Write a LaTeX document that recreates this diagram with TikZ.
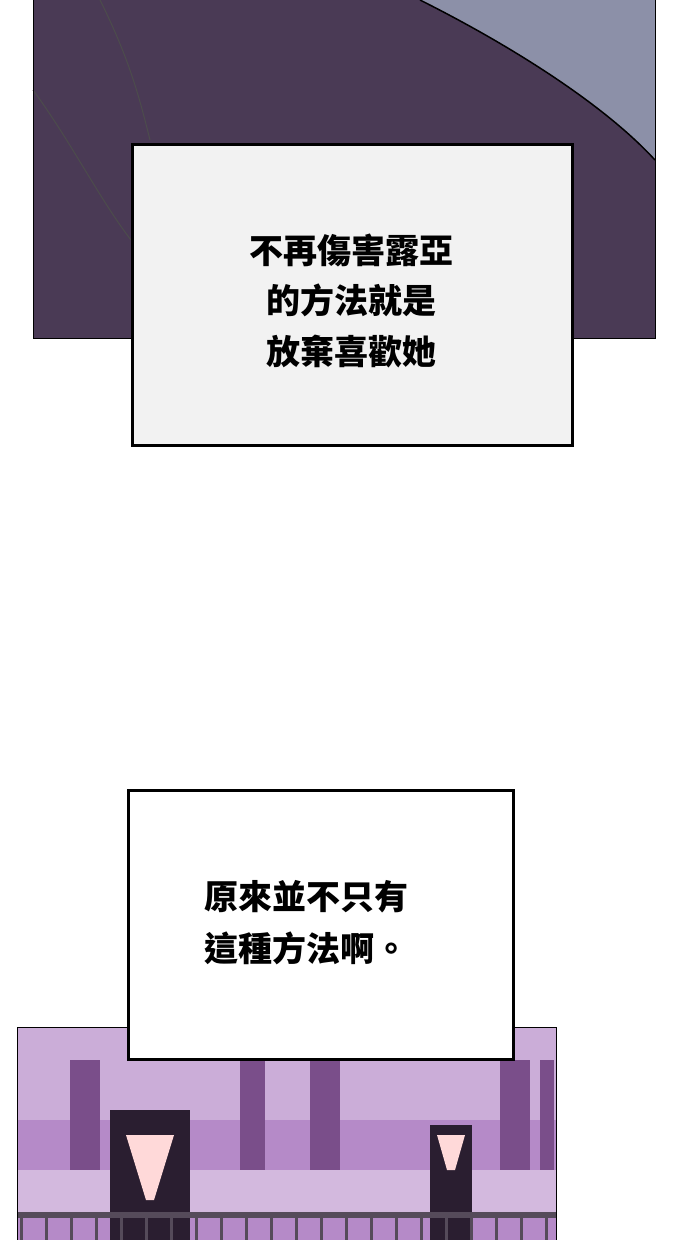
\documentclass[tikz,border=0pt]{standalone}
\usepackage{fontspec}
\newfontfamily\cjk{Noto Sans CJK TC}
\definecolor{nightpurple}{HTML}{4A3A55}
\definecolor{skygray}{HTML}{8C90A8}
\definecolor{forestpink}{HTML}{B58AC8}
\definecolor{treedark}{HTML}{7A4E8A}
\definecolor{lampdark}{HTML}{2A1E30}
\tikzset{
  caption/.style={draw=black,line width=3pt,fill=white},
  line/.style={font=\cjk\bfseries\fontsize{34}{40}\selectfont,inner sep=0pt},
  trunk/.style={fill=treedark},
}
\begin{document}
\begin{tikzpicture}[x=1pt,y=-1pt]
\useasboundingbox (0,0) rectangle (690,1240);
\fill[white] (0,0) rectangle (690,1240);
%Top panel
\fill[nightpurple] (33,0) rectangle (655,338);
\fill[skygray] (420,0) -- (655,0) -- (655,160) .. controls (600,100) and (500,40) .. (420,0) -- cycle;
\draw[black,line width=1.5pt] (420,0) .. controls (500,40) and (600,100) .. (655,160);
\draw[black!70,line width=1pt] (100,0) .. controls (130,60) and (140,100) .. (150,140);
\draw[black!70,line width=1pt] (33,90) .. controls (70,140) and (100,200) .. (131,240);
\draw[black,line width=0.6pt] (33,0) -- (33,338) -- (655,338) -- (655,0);
\node[caption,minimum width=440pt,minimum height=301pt,anchor=north west,fill=black!5] (box1) at (131,143) {};
\node[line] (t1) at (351,250) {不再傷害露亞};
\node[line] (t2) at (351,300) {的方法就是};
\node[line] (t3) at (351,352) {放棄喜歡她};
%Bottom panel
\fill[forestpink] (17,1027) rectangle (556,1240);
\fill[forestpink!70!white] (17,1027) rectangle (556,1120);
\foreach \x/\w in {70/30,240/25,310/30,500/30,540/14}
  \fill[trunk] (\x,1060) rectangle (\x+\w,1180);
\fill[forestpink!60!white] (17,1170) rectangle (556,1215);
\fill[lampdark] (110,1110) rectangle (190,1240);
\fill[pink!60!white] (126,1135) -- (174,1135) -- (154,1200) -- (146,1200) -- cycle;
\fill[lampdark] (430,1125) rectangle (472,1240);
\fill[pink!60!white] (437,1135) -- (465,1135) -- (455,1170) -- (447,1170) -- cycle;
\foreach \x in {20,45,...,550}
  \fill[lampdark!80] (\x,1215) rectangle (\x+3,1240);
\fill[lampdark!80] (17,1212) rectangle (556,1218);
\draw[black,line width=0.6pt] (17,1240) -- (17,1027) -- (556,1027) -- (556,1240);
\node[caption,minimum width=385pt,minimum height=269pt,anchor=north west] (box2) at (127,789) {};
\node[line,anchor=west] (t4) at (204,897) {原來並不只有};
\node[line,anchor=west] (t5) at (204,948) {這種方法啊。};
\end{tikzpicture}
\end{document}
